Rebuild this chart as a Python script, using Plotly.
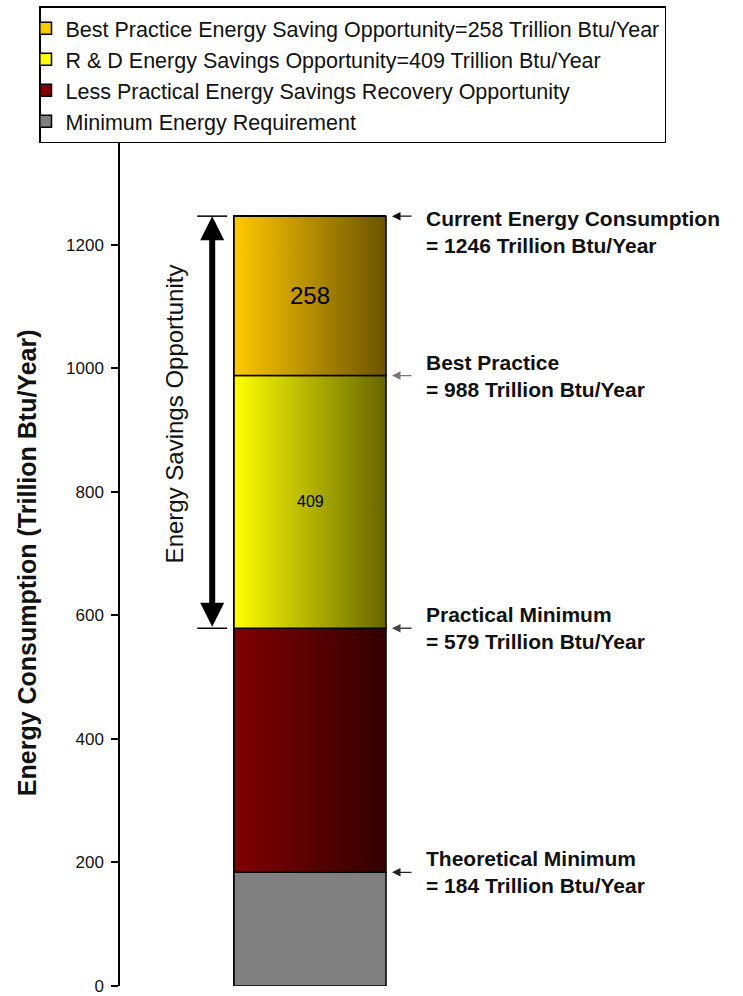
import plotly.graph_objects as go
import numpy as np

# Stacked energy segments, bottom to top (Trillion Btu/Year)
segment_names = [
    "Minimum Energy Requirement",
    "Less Practical Energy Savings Recovery Opportunity",
    "R & D Energy Savings Opportunity=409 Trillion Btu/Year",
    "Best Practice Energy Saving Opportunity=258 Trillion Btu/Year",
]
segment_values = [184, 395, 409, 258]
segment_left_colors = ["#808080", "#800000", "#FFFF00", "#FFC800"]
segment_right_colors = ["#808080", "#330000", "#666600", "#6B5300"]
value_labels = ["", "", "409", "258"]
value_label_sizes = [0, 0, 16, 24]

# Reference levels marked at the right of the bar
level_titles = ["Theoretical Minimum", "Practical Minimum", "Best Practice", "Current Energy Consumption"]
level_arrow_colors = ["#222222", "#444444", "#777777", "#111111"]

y_tick_values = [0, 200, 400, 600, 800, 1000, 1200]

tops = np.cumsum(segment_values)
bases = tops - np.array(segment_values)

FONT = "Liberation Sans, Arial, sans-serif"
TEXT = "#111111"

bar_center, bar_width = 0.305, 0.244
bar_l, bar_r = bar_center - bar_width / 2, bar_center + bar_width / 2

fig = go.Figure()

# Bars (legend entries and base fill)
for name, v, c in zip(segment_names, segment_values, segment_left_colors):
    fig.add_trace(go.Bar(
        x=[bar_center], y=[v], width=bar_width, name=name,
        marker=dict(color=c, line=dict(color="black", width=1.5)),
        hoverinfo="skip",
    ))

# Horizontal gradient shading over each segment
for b, t, cl, cr in zip(bases, tops, segment_left_colors, segment_right_colors):
    fig.add_trace(go.Scatter(
        x=[bar_l, bar_r, bar_r, bar_l, bar_l],
        y=[b, b, t, t, b],
        mode="lines", fill="toself",
        fillgradient=dict(type="horizontal", colorscale=[[0, cl], [1, cr]]),
        line=dict(color="black", width=1.5),
        showlegend=False, hoverinfo="skip",
    ))

annotations = []

# Segment value labels
for b, t, lab, sz in zip(bases, tops, value_labels, value_label_sizes):
    if lab:
        annotations.append(dict(
            x=bar_center, y=(b + t) / 2, xref="x", yref="y", text=lab,
            showarrow=False, font=dict(family=FONT, size=sz, color="black"),
        ))

# Level markers: small arrows and two-line captions
for i, (lvl, title, ac) in enumerate(zip(tops, level_titles, level_arrow_colors)):
    annotations.append(dict(
        x=bar_r, y=lvl, xref="x", yref="y", text="", showarrow=True,
        ax=27, ay=0, arrowhead=2, arrowsize=1.3, arrowwidth=1.3,
        arrowcolor=ac, standoff=6,
    ))
    annotations.append(dict(
        x=0.488, y=lvl, xref="x", yref="y",
        text=f"{title}<br>= {lvl} Trillion Btu/Year",
        showarrow=False, xanchor="left", yanchor="middle", align="left",
        yshift=-16 if i == len(tops) - 1 else 0,
        font=dict(family=FONT, size=21, color=TEXT, weight="bold"),
    ))

# Double-headed arrow spanning the savings opportunity
arrow_x = 0.148
annotations.append(dict(
    x=arrow_x, y=tops[-1], ax=arrow_x, ay=tops[1],
    xref="x", yref="y", axref="x", ayref="y", text="", showarrow=True,
    arrowside="end+start", arrowhead=2, startarrowhead=2,
    arrowwidth=6, arrowsize=0.8, startarrowsize=0.8, arrowcolor="black", standoff=0,
    startstandoff=0,
))
annotations.append(dict(
    x=0.088, y=(tops[-1] + tops[1]) / 2 + 14, xref="x", yref="y",
    text="Energy Savings Opportunity", textangle=-90, showarrow=False,
    xanchor="center", yanchor="middle",
    font=dict(family=FONT, size=24, color=TEXT),
))

# Y-axis title
annotations.append(dict(
    x=-0.149, y=0.489, xref="paper", yref="paper",
    text="Energy Consumption (Trillion Btu/Year)", textangle=-90, showarrow=False,
    xanchor="center", yanchor="middle",
    font=dict(family=FONT, size=25, color=TEXT, weight="bold"),
))

shapes = []
for lvl in (tops[-1], tops[1]):
    shapes.append(dict(type="line", xref="x", yref="y",
                       x0=arrow_x - 0.024, x1=arrow_x + 0.024, y0=lvl, y1=lvl,
                       line=dict(color="black", width=1.5)))

fig.update_layout(
    width=743, height=996,
    margin=dict(l=120, r=0, t=121, b=10, autoexpand=False),
    paper_bgcolor="white", plot_bgcolor="white",
    barmode="stack", bargap=0,
    font=dict(family=FONT, color=TEXT),
    showlegend=True,
    legend=dict(
        x=-0.13, y=1.1325, xanchor="left", yanchor="top",
        traceorder="reversed", bgcolor="white",
        bordercolor="black", borderwidth=1.5,
        font=dict(family=FONT, size=21.5, color=TEXT),
        indentation=-15, tracegroupgap=0,
    ),
    xaxis=dict(range=[0, 1], showgrid=False, zeroline=False, showline=False,
               showticklabels=False, ticks="", fixedrange=True, automargin=False),
    yaxis=dict(range=[0, 1400], tickvals=y_tick_values, showgrid=False,
               zeroline=False, showline=True, linecolor="black", linewidth=1.5,
               ticks="outside", ticklen=7, tickwidth=1.5, tickcolor="black",
               tickfont=dict(family=FONT, size=17, color=TEXT),
               ticklabelstandoff=4, ticklabeloverflow="allow", automargin=False),
    annotations=annotations,
    shapes=shapes,
)

fig.write_html("out.html")
